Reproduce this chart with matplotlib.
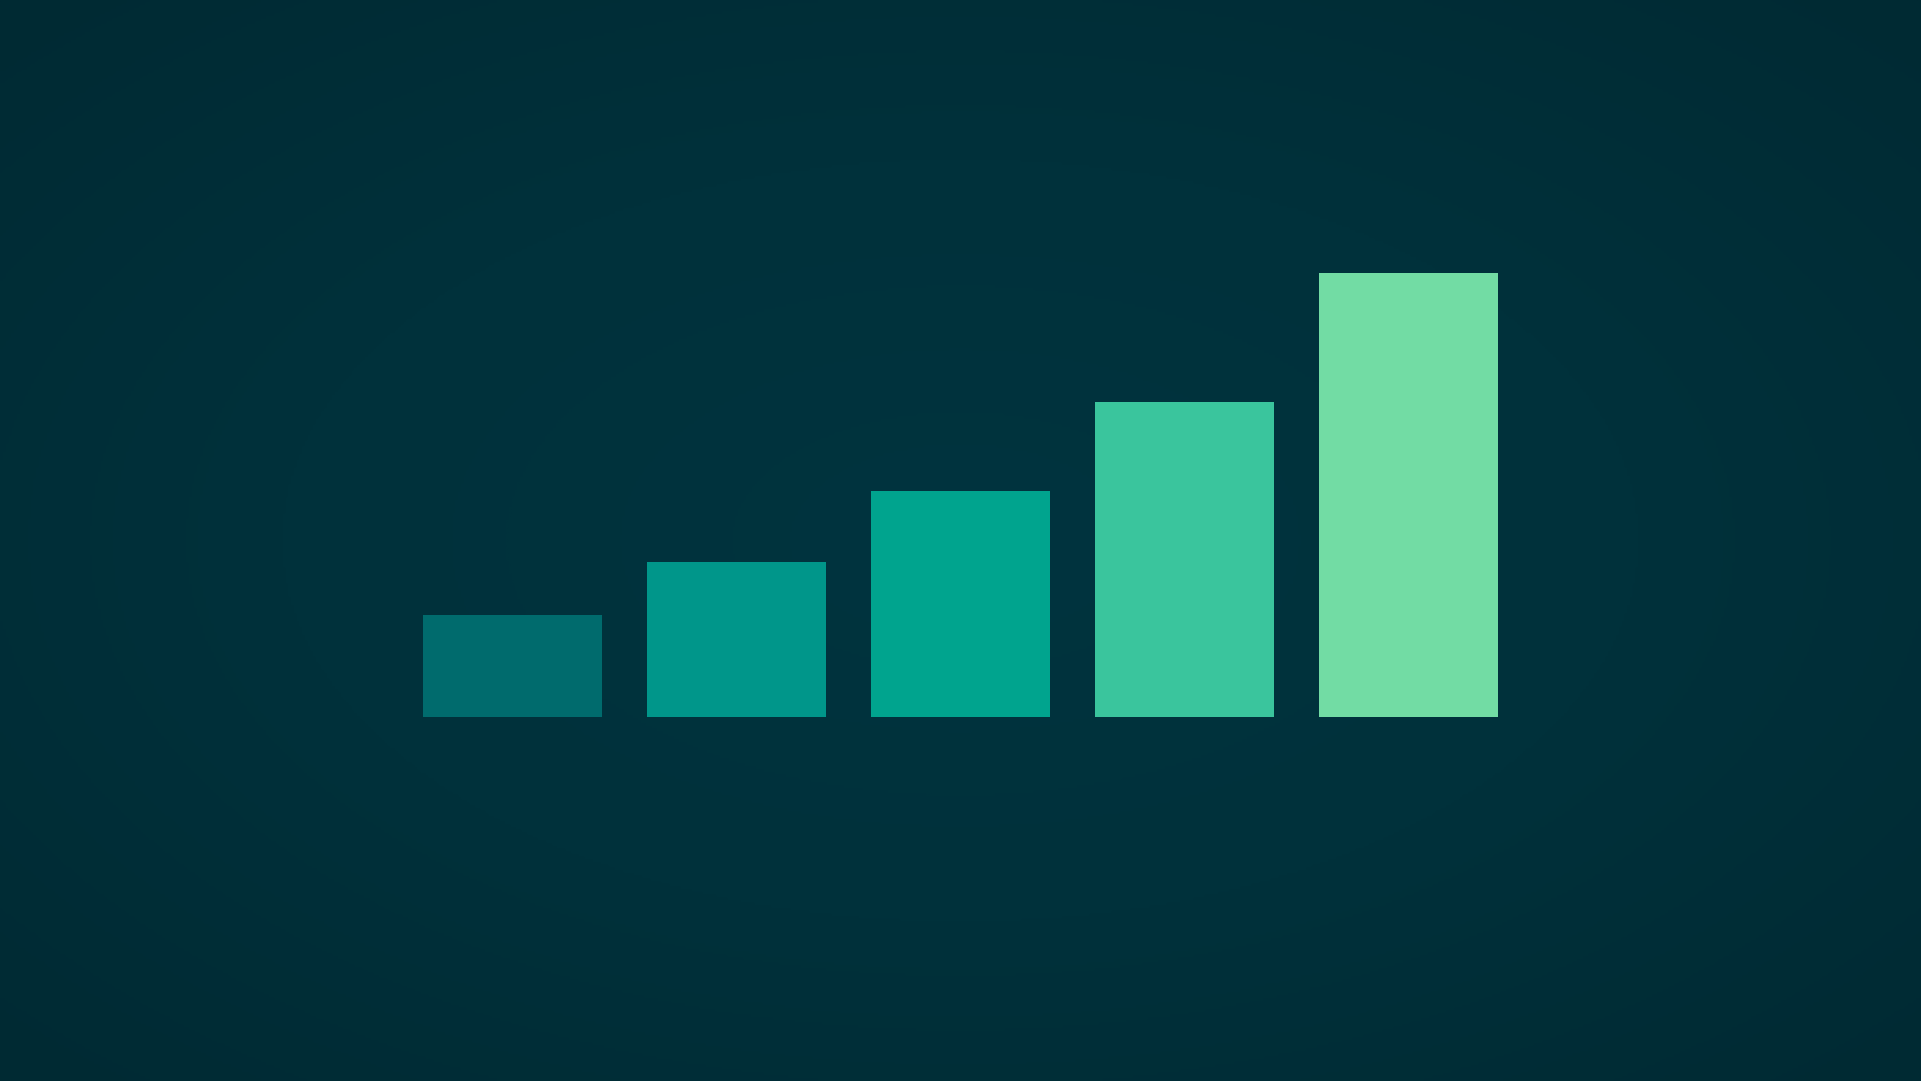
import numpy as np
import matplotlib
matplotlib.use("Agg")
import matplotlib.pyplot as plt
from matplotlib.colors import LinearSegmentedColormap

# bar data (relative heights)
categories = ["A", "B", "C", "D", "E"]
values = [23, 35, 51, 71, 100]
bar_colors = ["#006b6d", "#00968a", "#00a48e", "#3ac59d", "#72dca4"]

fig = plt.figure(figsize=(19.21, 10.81), dpi=100)

# radial background gradient
bg = fig.add_axes([0, 0, 1, 1])
yy, xx = np.mgrid[-1:1:400j, -1:1:700j]
r = np.sqrt(xx**2 + yy**2) / np.sqrt(2)
cmap = LinearSegmentedColormap.from_list("bg", ["#00343f", "#00313b", "#002a33"])
bg.imshow(r, cmap=cmap, aspect="auto", extent=[0, 1, 0, 1], vmin=0, vmax=1)
bg.axis("off")

ax = fig.add_axes([0, 0, 1, 1])
ax.patch.set_alpha(0)
x = np.arange(len(categories))
ax.bar(x, values, width=0.8, color=bar_colors)
ax.set_xlim(-2.288, 6.288)
ax.set_ylim(-82.0, 161.5)
ax.axis("off")

fig.savefig("out.png", dpi=100)
